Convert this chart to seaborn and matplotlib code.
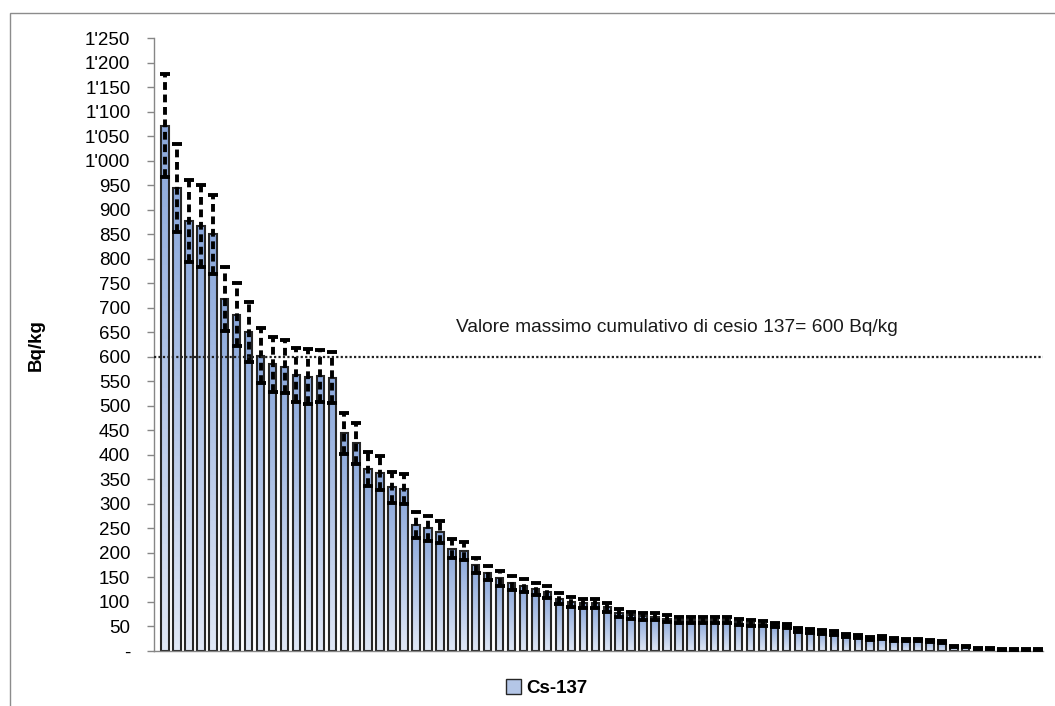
import numpy as np
import pandas as pd
import matplotlib
matplotlib.use("Agg")
import matplotlib.pyplot as plt
import seaborn as sns
from matplotlib.colors import LinearSegmentedColormap
from matplotlib.patches import Patch, Rectangle

# Cs-137 activity per sample (Bq/kg), sorted descending
cs137 = [1072, 944, 877, 867, 850, 718, 686, 650, 602, 585,
         580, 563, 560, 561, 557, 444, 424, 372, 363, 334,
         330, 257, 250, 243, 209, 204, 175, 159, 148, 139,
         133, 127, 121, 107, 100, 97, 97, 89, 78, 73,
         71, 70, 66, 64, 63, 63, 63, 63, 60, 58,
         56, 53, 51, 43, 41, 39, 36, 32, 29, 26,
         27, 24, 22, 22, 21, 18, 10, 10, 5, 5,
         4, 4, 3, 3]
# measurement uncertainty (Bq/kg)
cs137_err = [105, 90, 84, 83, 80, 65, 64, 61, 56, 56,
             54, 56, 57, 54, 52, 42, 42, 35, 34, 32,
             31, 26, 25, 22, 19, 19, 15, 14, 15, 15,
             13, 12, 12, 11, 10, 10, 10, 9, 8, 7,
             7, 7, 7, 6, 6, 6, 6, 6, 6, 6,
             6, 5, 5, 4, 4, 4, 4, 3, 3, 3,
             3, 3, 2, 2, 2, 2, 1, 1, 1, 1,
             1, 1, 1, 1]

y_ticks = list(range(0, 1251, 50))
y_tick_labels = ["-" if v == 0 else f"{v:,}".replace(",", "'") for v in y_ticks]

limit_value = 600
limit_label = "Valore massimo cumulativo di cesio 137= 600 Bq/kg"
series_name = "Cs-137"

df = pd.DataFrame({"sample": range(len(cs137)), "value": cs137, "err": cs137_err})

sns.set_theme(style="white")
plt.rcParams["font.family"] = ["Liberation Sans", "DejaVu Sans"]
plt.rcParams["text.color"] = "black"
plt.rcParams["axes.labelcolor"] = "black"
plt.rcParams["ytick.color"] = "black"

fig = plt.figure(figsize=(10.55, 7.06), dpi=100)
ax = fig.add_axes([154 / 1055, 1 - 651 / 706, (1043 - 154) / 1055, (651 - 38.3) / 706])

sns.barplot(data=df, x="sample", y="value", color="#b4c6e7", width=0.62,
            edgecolor="#262626", linewidth=1.5, ax=ax, errorbar=None)

# gradient fill per bar, darker blue at the top
cmap = LinearSegmentedColormap.from_list("grad", ["#dfe7f5", "#8aa7db"])
grad = np.linspace(0, 1, 64).reshape(-1, 1)
for bar in ax.patches:
    x0, w, h = bar.get_x(), bar.get_width(), bar.get_height()
    im = ax.imshow(grad, extent=[x0, x0 + w, 0, h], origin="lower", aspect="auto",
                   cmap=cmap, zorder=bar.get_zorder() - 0.1)
    im.set_clip_path(bar)
    bar.set_facecolor("none")

eb = ax.errorbar(df["sample"], df["value"], yerr=df["err"], fmt="none",
                 ecolor="black", elinewidth=2.8, capsize=3.5, capthick=2.8, zorder=5)
eb[2][0].set_linestyle((0, (2.0, 1.2)))

ax.axhline(limit_value, color="#222222", linestyle=(0, (1, 1)), linewidth=1.6, zorder=6)
ax.text(42.8, 661, limit_label, ha="center", va="center", fontsize=13.8, color="#1a1a1a")

ax.set_xlim(-0.92, 73.46)
ax.set_ylim(0, 1250)
ax.set_yticks(y_ticks)
ax.set_yticklabels(y_tick_labels, fontsize=13.5)
ax.set_xticks([])
ax.set_xlabel("")
ax.set_ylabel("Bq/kg", fontsize=13.5, fontweight="bold")
ax.yaxis.set_label_coords(-0.1226, 0.5)
ax.tick_params(axis="y", length=5, width=1, color="#868686", labelcolor="black", pad=12, left=True)

for s in ["top", "right"]:
    ax.spines[s].set_visible(False)
for s in ["left", "bottom"]:
    ax.spines[s].set_color("#868686")
    ax.spines[s].set_linewidth(1)

handle = Patch(facecolor="#b4c6e7", edgecolor="#262626", linewidth=1)
fig.legend([handle], [series_name], loc="center", bbox_to_anchor=(0.518, 1 - 688 / 706),
           frameon=False, prop={"size": 13.5, "weight": "bold"},
           handlelength=0.8, handleheight=0.8, handletextpad=0.3)

fig.add_artist(Rectangle((10 / 1055, -0.1), 1.2, 1 - 13 / 706 + 0.1, transform=fig.transFigure,
                         fill=False, edgecolor="#8c8c8c", linewidth=1))

fig.savefig("out.png", dpi=100)
